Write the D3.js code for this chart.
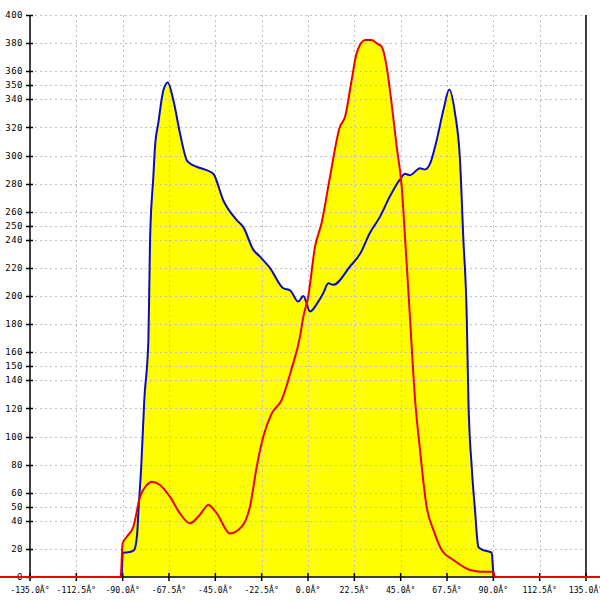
<!DOCTYPE html>
<html><head><meta charset="utf-8">
<script src="https://cdn.jsdelivr.net/npm/d3@7"></script>
<style>body{margin:0;background:#fff}svg{display:block}</style>
</head><body><svg id="c" width="600" height="600"></svg>
<script>
const xTicks = [-135, -112.5, -90, -67.5, -45, -22.5, 0, 22.5, 45, 67.5, 90, 112.5, 135];
const yTicks = [0, 20, 40, 50, 60, 80, 100, 120, 140, 150, 160, 180, 200, 220, 240, 250, 260, 280, 300, 320, 340, 350, 360, 380, 400];

const blueX = [-180,-90.5,-90,-88,-86,-84.5,-83,-82.3,-81,-79.5,-77.5,-76.7,-75.1,-74.3,-72.7,-70.3,-68.1,-65.4,-62.2,-58.6,-54.1,-50,-46,-41.1,-34.6,-31.4,-26.6,-23.3,-18.5,-12,-8.7,-4.7,-2.3,1,5,7.4,9.9,12.3,20.4,25.3,30.1,35,39.8,44.7,47.1,49.5,54.4,56.8,59.2,62.5,65.7,68.6,71.4,73.8,75.4,77.1,77.9,79.5,81.1,82.7,84.3,89.2,90,90.3,180];
const blueY = [0,0,17,17.5,18,19,30,48,78,126,169,240,285,306,323,346,352,339.5,316,296,292,290,287,268,254,249,233,228,220,205.5,204,196,200,189,196,202,209,208,221,230,245,256.5,271,283,287,286,291,290,294,311,332,347,330,297,242,185,126,78.5,47.7,21.6,19.7,17.3,3,0,0];

const redX = [-180,-91,-90,-88,-84.8,-81.6,-78.3,-75.9,-71.9,-67,-62.2,-57.3,-52.4,-48.4,-44.3,-37.9,-32.2,-28.2,-24.9,-21.7,-17.6,-12.8,-8,-3.9,-2.3,0.1,3.4,6.6,10.7,15.5,18,21.2,23.6,27.7,30.9,33.4,35.8,38.2,40.6,43.1,45.5,47.1,49.5,52,54.4,57.6,60.9,64.9,70.6,78.7,84.3,90,90.8,180];
const redY = [0,0,24,28.7,35.8,57,65.5,67.8,65.5,57,45.3,38.2,44.5,51.2,45.3,31,35.8,50,78.5,100,116.5,126,148,171,185,199.5,235,252,285,320.5,327.6,353.7,372.7,382.2,382.2,379.8,377.4,363.2,337,306,278,242,185,126,90.4,50,33.5,19.2,12.1,5,3.8,3.8,0,0];

const svg = d3.select("#c");
const x = d3.scaleLinear().domain([-135, 135]).range([30, 586]);
const y = d3.scaleLinear().domain([0, 400]).range([577, 15]);

const blue = blueX.map((v, i) => [v, blueY[i]]);
const red = redX.map((v, i) => [v, redY[i]]);

const area = d3.area().x(d => x(d[0])).y0(y(0)).y1(d => y(d[1])).curve(d3.curveMonotoneX);
const line = d3.line().x(d => x(d[0])).y(d => y(d[1])).curve(d3.curveMonotoneX);

svg.append("path").attr("d", area(blue)).attr("fill", "#ffff00");
svg.append("path").attr("d", area(red)).attr("fill", "#ffff00");

// grid
const grid = svg.append("g").attr("stroke", "#c0c0c0").attr("stroke-dasharray", "2,3").attr("stroke-width", 1);
yTicks.filter(t => t > 0).forEach(t => {
  grid.append("line").attr("x1", x(-135)).attr("x2", x(135)).attr("y1", Math.round(y(t)) + 0.5).attr("y2", Math.round(y(t)) + 0.5);
});
xTicks.filter(t => t > -135 && t < 135).forEach(t => {
  grid.append("line").attr("x1", Math.round(x(t)) + 0.5).attr("x2", Math.round(x(t)) + 0.5).attr("y1", y(400)).attr("y2", y(0));
});

// axes
const ax = svg.append("g").attr("stroke", "#000").attr("stroke-width", 1.5);
ax.append("line").attr("x1", x(-135)).attr("x2", x(-135)).attr("y1", y(400)).attr("y2", y(0));
ax.append("line").attr("x1", x(135)).attr("x2", x(135)).attr("y1", y(400)).attr("y2", y(0));
ax.append("line").attr("x1", x(-135)).attr("x2", x(135)).attr("y1", y(0)).attr("y2", y(0));
yTicks.forEach(t => {
  ax.append("line").attr("x1", x(-135) - 4).attr("x2", x(-135) + 3).attr("y1", Math.round(y(t)) + 0.5).attr("y2", Math.round(y(t)) + 0.5);
});
xTicks.forEach(t => {
  ax.append("line").attr("x1", x(t)).attr("x2", x(t)).attr("y1", y(0) - 4).attr("y2", y(0) + 4);
});

const lab = svg.append("g").attr("font-family", "DejaVu Sans Mono, monospace").attr("fill", "#000");
yTicks.forEach(t => {
  lab.append("text").attr("x", x(-135) - 7).attr("y", y(t)).attr("dy", "0.35em")
    .attr("text-anchor", "end").attr("font-size", 9).attr("letter-spacing", 0.5).text(String(t));
});
xTicks.forEach(t => {
  lab.append("text").attr("x", x(t)).attr("y", 593)
    .attr("text-anchor", "middle").attr("font-size", 8.2).text(t.toFixed(1) + "Â°");
});

svg.append("path").attr("d", line(blue)).attr("fill", "none").attr("stroke", "#0a0ac8").attr("stroke-width", 2);
svg.append("path").attr("d", line(red)).attr("fill", "none").attr("stroke", "#ee0000").attr("stroke-width", 2);
</script></body></html>
